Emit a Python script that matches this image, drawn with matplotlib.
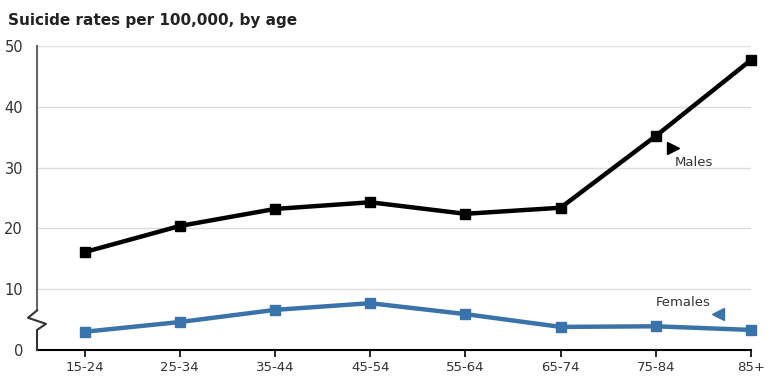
import numpy as np
import matplotlib.pyplot as plt

ages = ['15-24', '25-34', '35-44', '45-54', '55-64', '65-74', '75-84', '85+']
males = [16.1, 20.4, 23.2, 24.3, 22.4, 23.4, 35.2, 47.7]
females = [3.0, 4.6, 6.6, 7.7, 5.9, 3.8, 3.9, 3.3]
yticks = [0, 10, 20, 30, 40, 50]

blue = '#3a73a9'

fig = plt.figure(figsize=(7.78, 3.85), dpi=100)
ax = fig.add_axes([37/778, 35/385, 714/778, 304/385])
x = np.arange(len(ages))

ax.plot(x, males, color='black', lw=3.2, marker='s', ms=6.5, clip_on=False, zorder=3)
ax.plot(x, females, color=blue, lw=3.2, marker='s', ms=6.5, clip_on=False, zorder=3)

ax.set_xlim(-0.5, 7)
ax.set_ylim(0, 50)
ax.set_xticks(x)
ax.set_xticklabels(ages, fontsize=9.5, color='#333333')
ax.set_yticks(yticks)
ax.set_yticklabels([str(v) for v in yticks], fontsize=10.5, color='#333333')
ax.tick_params(axis='y', length=0, pad=10)
ax.tick_params(axis='x', length=5, width=1.2, color='black', pad=3)
ax.grid(axis='y', color='#dddddd', lw=1)
ax.set_axisbelow(True)

for s in ['top', 'right', 'left']:
    ax.spines[s].set_visible(False)
ax.spines['bottom'].set_color('black')
ax.spines['bottom'].set_linewidth(1.5)

# left axis drawn by hand, with a zigzag break between 0 and 10
ax.plot([0, 0], [50, 6.5], color='#666666', lw=1.5,
        transform=ax.get_yaxis_transform(), clip_on=False)
zy = [6.5, 5.3, 4.3, 3.3, 0]
dx = [0, -9, 9, 0, 0]
pts = []
for yv, d in zip(zy, dx):
    px, py = ax.transData.transform((-0.5, yv))
    pts.append((px + d, py))
pts = fig.transFigure.inverted().transform(pts)
fig.lines.append(plt.Line2D(pts[:, 0], pts[:, 1], color='#333333', lw=1.5,
                            transform=fig.transFigure))

fig.text(8/778, 1 - 20/385, 'Suicide rates per 100,000, by age', fontsize=11,
         fontweight='bold', color='#222222', va='center')

ax.plot([6.18], [33.2], marker='>', color='black', ms=9, clip_on=False)
ax.text(6.2, 30.8, 'Males', fontsize=9.5, color='#333333', ha='left', va='center')
ax.plot([6.65], [5.9], marker='<', color=blue, ms=9, clip_on=False)
ax.text(6.58, 7.8, 'Females', fontsize=9.5, color='#333333', ha='right', va='center')

fig.savefig('out.png', dpi=100)
